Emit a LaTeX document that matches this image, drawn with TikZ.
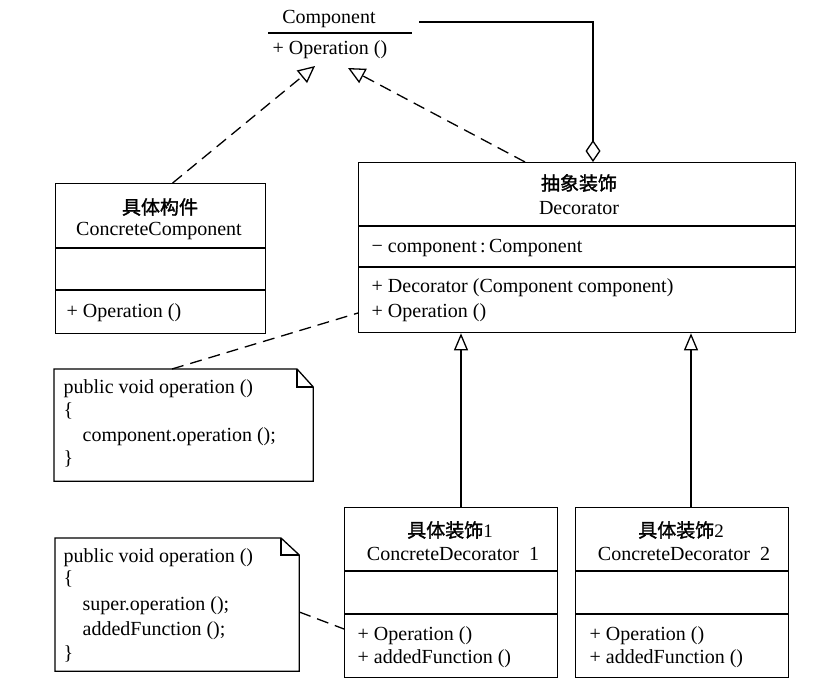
\documentclass[tikz,border=0pt]{standalone}
\usepackage{fontspec}
\setmainfont{Liberation Serif}
\newfontfamily\cjk[AutoFakeBold=1.5]{Noto Sans CJK SC}
\usetikzlibrary{arrows.meta,calc}
\begin{document}
\begin{tikzpicture}[x=1pt,y=-1pt,line width=1.3pt,
  txt/.style={font=\fontsize{20}{24}\selectfont,inner sep=0pt,anchor=west},
  ctxt/.style={font=\fontsize{20}{24}\selectfont,inner sep=0pt},
  ztxt/.style={font=\cjk\bfseries\fontsize{19}{24}\selectfont,inner sep=0pt},
  box/.style={draw,inner sep=0pt,anchor=north west},
  ghost/.style={inner sep=0pt,anchor=north west},
  dsh/.style={dash pattern=on 12pt off 7pt},
  real/.style={-{Triangle[open,length=17pt,width=16pt]}},
  gen/.style={-{Triangle[open,length=17pt,width=14pt]}},
  agg/.style={-{Diamond[open,length=22pt,width=15pt]}}]
\useasboundingbox (0,0) rectangle (835,698);

% Component
\node[ghost,minimum width=144pt,minimum height=58pt] (comp) at (268,5) {};
\node[ctxt] (compname) at (329,19) {Component};
\draw (268,33) -- (412,33);
\node[txt] (compop) at (272,50) {+ Operation ()};
\coordinate (compt1) at (315,66);
\coordinate (compt2) at (348,68);
\coordinate (compagg) at (419,22);

% ConcreteComponent
\node[box,minimum width=210pt,minimum height=150pt] (cc) at (55,183) {};
\draw (cc.west |- 0,248) -- (cc.east |- 0,248);
\draw (cc.west |- 0,290) -- (cc.east |- 0,290);
\node[ztxt] (ccz) at (160,207) {具体构件};
\node[ctxt] (ccn) at (159,231) {ConcreteComponent};
\node[txt] (ccop) at (66,313) {+ Operation ()};

% Decorator
\node[box,minimum width=437pt,minimum height=170pt] (dec) at (358,162) {};
\draw (dec.west |- 0,226) -- (dec.east |- 0,226);
\draw (dec.west |- 0,267) -- (dec.east |- 0,267);
\node[ztxt] (decz) at (579,183) {抽象装饰};
\node[ctxt] (decn) at (579,208) {Decorator};
\node[txt] (deca) at (371,248) {− component\,:\,Component};
\node[txt] (decm1) at (371,288) {+ Decorator (Component component)};
\node[txt] (decm2) at (371,313) {+ Operation ()};

% Concrete decorators
\node[box,minimum width=213pt,minimum height=170pt] (cd1) at (344,507) {};
\draw (cd1.west |- 0,571) -- (cd1.east |- 0,571);
\draw (cd1.west |- 0,614) -- (cd1.east |- 0,614);
\node[ztxt] (cd1z) at (450,530) {具体装饰\fontspec{Liberation Serif}\mdseries 1};
\node[ctxt] (cd1n) at (453,554) {ConcreteDecorator\ \ 1};
\node[txt] (cd1m1) at (357,636) {+ Operation ()};
\node[txt] (cd1m2) at (357,659) {+ addedFunction ()};

\node[box,minimum width=213pt,minimum height=170pt] (cd2) at (575,507) {};
\draw (cd2.west |- 0,571) -- (cd2.east |- 0,571);
\draw (cd2.west |- 0,614) -- (cd2.east |- 0,614);
\node[ztxt] (cd2z) at (681,530) {具体装饰\fontspec{Liberation Serif}\mdseries 2};
\node[ctxt] (cd2n) at (684,554) {ConcreteDecorator\ \ 2};
\node[txt] (cd2m1) at (589,636) {+ Operation ()};
\node[txt] (cd2m2) at (589,659) {+ addedFunction ()};

% Note 1
\node[ghost,minimum width=258pt,minimum height=111pt] (n1) at (54,369) {};
\draw (n1.north west) -- (297,369) -- (n1.east |- 0,387) -- (n1.south east) -- (n1.south west) -- cycle;
\draw (297,369) -- (297,387) -- (n1.east |- 0,387);
\node[txt] (n1a) at (63,389) {public void operation ()};
\node[txt] (n1b) at (63,411) {\{};
\node[txt] (n1c) at (82,437) {component.operation ();};
\node[txt] (n1d) at (63,459) {\}};

% Note 2
\node[ghost,minimum width=243pt,minimum height=132pt] (n2) at (55,538) {};
\draw (n2.north west) -- (281,538) -- (n2.east |- 0,555) -- (n2.south east) -- (n2.south west) -- cycle;
\draw (281,538) -- (281,555) -- (n2.east |- 0,555);
\node[txt] (n2a) at (63,558) {public void operation ()};
\node[txt] (n2b) at (63,579) {\{};
\node[txt] (n2c) at (82,606) {super.operation ();};
\node[txt] (n2d) at (82,631) {addedFunction ();};
\node[txt] (n2e) at (63,654) {\}};

% Connectors
\draw[dsh,real] ([xshift=12pt]cc.north) -- (compt1);
\draw[dsh,real] (dec.north west -| 525,0) -- (compt2);
\draw[agg] (compagg) -| (dec.north west -| 593,0);
\draw[dsh] (n1.north west -| 172,0) -- (dec.west |- 0,313);
\draw[dsh] (n2.east |- 0,612) -- (cd1.west |- 0,629);
\draw[gen] (cd1.north -| 461,0) -- (dec.south -| 461,0);
\draw[gen] (cd2.north -| 691,0) -- (dec.south -| 691,0);
\end{tikzpicture}
\end{document}
